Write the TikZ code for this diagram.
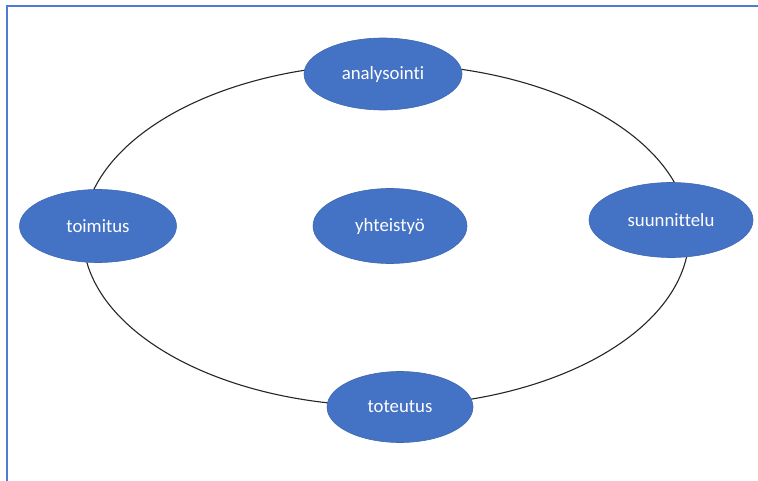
\documentclass[tikz,border=0pt]{standalone}
\usepackage{fontspec}
\setmainfont{Carlito}[Ligatures={NoCommon}]
\usetikzlibrary{shapes.geometric}
\definecolor{stageblue}{HTML}{4472C4}
\definecolor{stageedge}{HTML}{3E68B4}
\definecolor{framecol}{HTML}{4F7BD2}
\begin{document}
\begin{tikzpicture}[x=1pt,y=-1pt,
  stage/.style={ellipse, fill=stageblue, draw=stageedge, line width=0.6pt,
    inner sep=0pt, text=white, font=\fontsize{18.8}{22}\selectfont},
  ring/.style={ellipse, draw=black!85, line width=1.1pt, inner sep=0pt,
    minimum width=606pt, minimum height=342pt}]
  \useasboundingbox (0,0) rectangle (758,481);
  \fill[white] (0,0) rectangle (758,481);
  % frame along the top and left edges
  \draw[framecol, line width=2.4pt] (7,481) -- (7,6) -- (758,6);
  % cycle outline
  \node[ring] (cycle) at (386,235) {};
  % stages around the cycle and the centre
  \node[stage, minimum width=158pt, minimum height=72pt] (ana) at (383,74) {analysointi};
  \node[stage, minimum width=164pt, minimum height=75pt] (suu) at (671,220) {suunnittelu};
  \node[stage, minimum width=146pt, minimum height=71pt] (tot) at (400,407) {toteutus};
  \node[stage, minimum width=157pt, minimum height=73pt] (toi) at (98,226) {toimitus};
  \node[stage, minimum width=154pt, minimum height=75pt] (yht) at (390,226) {yhteistyö};
\end{tikzpicture}
\end{document}
